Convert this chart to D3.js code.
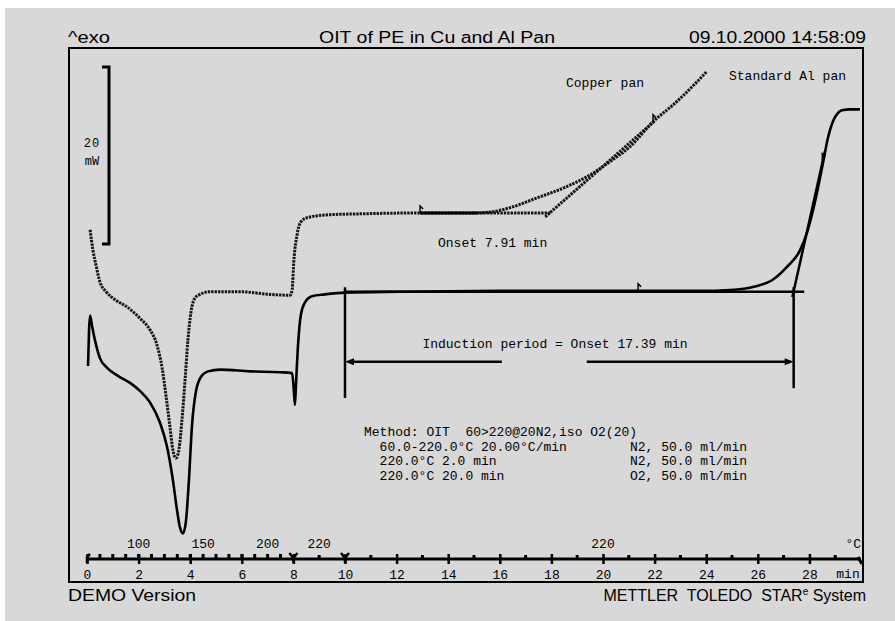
<!DOCTYPE html>
<html><head><meta charset="utf-8">
<script src="https://cdn.jsdelivr.net/npm/d3@7"></script>
<style>html,body{margin:0;padding:0;background:#fff;}svg{display:block;}</style>
</head><body>
<svg id="chart" width="895" height="621"></svg>
<script>
// Copper pan run: time (min) and heat flow (mW, exo up, arbitrary offset)
const cuTime = [0.12,0.23,0.35,0.50,0.74,1.09,1.59,2.05,2.44,2.71,2.91,3.06,3.22,3.33,3.45,3.57,3.68,3.80,3.91,4.03,4.19,4.38,4.77,5.93,7.09,7.87,7.95,8.02,8.14,8.29,8.57,9.42,10.58,12.91,14.84,15.62,16.40,17.44,18.53,19.50,20.27,21.05,21.94,22.79,23.57,24.03];
const cuFlow = [39.8,37.5,35.8,33.9,32.8,31.9,31.0,29.8,28.5,26.8,24.2,21.1,17.4,14.9,14.0,15.1,18.3,22.8,27.3,30.5,32.1,32.5,32.8,32.8,32.5,32.4,33.0,36.4,39.2,40.7,41.2,41.5,41.6,41.7,41.7,41.8,42.3,43.4,44.6,46.0,47.5,49.2,52.0,54.1,56.3,57.7];
// Standard Al pan run
const alTime = [0.04,0.08,0.12,0.19,0.31,0.50,0.78,1.20,1.67,2.05,2.44,2.83,3.10,3.33,3.49,3.60,3.72,3.84,3.95,4.07,4.22,4.42,4.69,5.16,6.32,7.48,7.95,8.02,8.06,8.10,8.18,8.29,8.45,8.72,9.22,10.0,12.13,16.0,19.88,23.76,24.92,25.89,26.55,27.13,27.64,27.91,28.14,28.33,28.53,28.72,28.92,29.11,29.26,29.57,29.96];
const alFlow = [24.4,28.5,30.1,29.0,27.3,25.3,24.2,23.3,22.5,21.6,20.3,18.0,15.3,11.5,8.1,6.2,5.5,7.0,11.5,17.7,21.5,23.2,23.8,24.0,23.8,23.7,23.6,21.5,20.0,22.3,26.8,30.2,31.6,32.3,32.5,32.7,32.8,32.9,32.9,32.9,33.0,33.4,34.1,35.6,37.5,39.5,42.0,44.5,47.4,50.2,52.1,53.0,53.3,53.4,53.4];

// Evaluation results
const cuOnset = 17.91, cuBaseline = 41.7, cuSlope = 2.54;   // min, mW, mW/min
const alOnset = 27.39, alBaseline = 32.8, alSlope = 13.1;
const oxygenSwitch = 10;                                  // min

// Axis ticks and temperature labels
const timeTicks = d3.range(0, 29, 2);
const minorTicks = d3.range(1, 30, 2);
const heatingTicks = d3.range(70, 220, 10).map(T => (T - 60) / 20);
const segmentMarks = [8, 10];
const tempLabelTimes = [2, 4.5, 7, 9, 20];
const tempLabelText = ["100", "150", "200", "220", "220"];

const methodLines = [
  ["Method: OIT  60>220@20N2,iso O2(20)", ""],
  ["  60.0-220.0\u00B0C 20.00\u00B0C/min", "N2, 50.0 ml/min"],
  ["  220.0\u00B0C 2.0 min", "N2, 50.0 ml/min"],
  ["  220.0\u00B0C 20.0 min", "O2, 50.0 ml/min"]
];

const svg = d3.select("#chart");
const mono = "'Liberation Mono','DejaVu Sans Mono',monospace";
const sans = "'Liberation Sans',Arial,sans-serif";

const frame = {l: 69, t: 48, r: 863, b: 582};
const x = d3.scaleLinear().domain([0, 30]).range([87, 861]);
const y = d3.scaleLinear().domain([0, 60.34]).range([frame.b, frame.t]);

// page background
svg.append("rect").attr("x", 5).attr("y", 8).attr("width", 890).attr("height", 613).attr("fill", "#d8d8d8");
svg.append("rect").attr("x", frame.l).attr("y", frame.t)
  .attr("width", frame.r - frame.l).attr("height", frame.b - frame.t)
  .attr("fill", "none").attr("stroke", "#000").attr("stroke-width", 2);

// header and footer
function headText(txt, xx, yy, anchor, len) {
  svg.append("text").attr("x", xx).attr("y", yy).attr("text-anchor", anchor)
    .attr("font-family", sans).attr("font-size", 16).attr("fill", "#000")
    .attr("textLength", len).attr("lengthAdjust", "spacingAndGlyphs")
    .style("white-space", "pre").text(txt);
}
headText("^exo", 68, 43, "start", 42);
headText("OIT of PE in Cu and Al Pan", 437, 43, "middle", 236);
headText("09.10.2000 14:58:09", 866, 43, "end", 177);
headText("DEMO Version", 68, 601, "start", 128);
const brand = svg.append("text").attr("x", 866).attr("y", 601).attr("text-anchor", "end")
  .attr("font-family", sans).attr("font-size", 16).style("white-space", "pre");
brand.append("tspan").text("METTLER  TOLEDO  STAR");
brand.append("tspan").attr("font-size", 10).attr("dy", -6).text("e");
brand.append("tspan").attr("dy", 6).text(" System");

// curves
const line = d3.line().x(d => x(d[0])).y(d => y(d[1])).curve(d3.curveMonotoneX);
const cuData = cuTime.map((t, i) => [t, cuFlow[i]]);
const alData = alTime.map((t, i) => [t, alFlow[i]]);

const plot = svg.append("g");
const dotted = {stroke: "#161616", width: 3, dash: "2.4,1"};

// evaluation helpers (drawn first so the curves sit on top)
const straight = d3.line().x(d => x(d[0])).y(d => y(d[1]));
function seg(pts, dash, w, col) {
  plot.append("path").attr("d", straight(pts)).attr("fill", "none")
    .attr("stroke", col || "#000").attr("stroke-width", w)
    .attr("stroke-dasharray", dash || null);
}
// Al baseline and inflection tangent
seg([[oxygenSwitch, alBaseline], [27.8, alBaseline]], null, 2.5);
seg([[alOnset - 0.05, alBaseline - 0.6], [28.6, alBaseline + alSlope * (28.6 - alOnset)]], null, 2.5);
// Cu baseline extension and tangent
seg([[15.1, cuBaseline], [cuOnset + 0.05, cuBaseline]], dotted.dash, 3, dotted.stroke);
seg([[cuOnset - 0.15, cuBaseline - 0.45], [22.0, cuBaseline + cuSlope * (22.0 - cuOnset)]], dotted.dash, 3, dotted.stroke);

plot.append("path").attr("d", line(cuData)).attr("fill", "none")
  .attr("stroke", dotted.stroke).attr("stroke-width", dotted.width)
  .attr("stroke-dasharray", dotted.dash);
plot.append("path").attr("d", line(alData)).attr("fill", "none")
  .attr("stroke", "#000").attr("stroke-width", 2.6).attr("stroke-linejoin", "round");

// solid evaluation range on the copper baseline
seg([[12.91, cuBaseline], [15.1, cuBaseline]], null, 3);

// small limit flags
function flag(t, v) {
  const px = x(t), py = y(v);
  plot.append("path").attr("d", `M${px},${py}V${py - 7}L${px + 3},${py - 4}`)
    .attr("fill", "none").attr("stroke", "#000").attr("stroke-width", 1.5);
}
flag(12.91, cuBaseline);
flag(21.94, 52.0);
flag(21.36, 32.9);
flag(28.5, 47.6);

// induction period markers
seg([[oxygenSwitch, 33.3], [oxygenSwitch, 20.8]], null, 2.5);
seg([[alOnset, 33.3], [alOnset, 21.9]], null, 2.5);
const arrowV = 24.9;
seg([[16.08, arrowV], [oxygenSwitch + 0.2, arrowV]], null, 2.5);
seg([[19.37, arrowV], [alOnset - 0.2, arrowV]], null, 2.5);
function head(t, dir) {
  const px = x(t), py = y(arrowV);
  plot.append("path").attr("d", `M${px},${py}L${px - dir * 9},${py - 3.5}L${px - dir * 9},${py + 3.5}Z`).attr("fill", "#000");
}
head(oxygenSwitch, -1);
head(alOnset, 1);

// annotations
function label(txt, xx, yy, anchor) {
  return svg.append("text").attr("x", xx).attr("y", yy).attr("text-anchor", anchor || "start")
    .attr("font-family", mono).attr("font-size", 13).attr("fill", "#000")
    .style("white-space", "pre").text(txt);
}
label("Copper pan", 566, 87);
label("Standard Al pan", 729, 80);
label("Onset 7.91 min", 438, 247);
label("Induction period = Onset 17.39 min", 555, 348, "middle");
methodLines.forEach((row, i) => {
  label(row[0], 364, 436 + i * 14.5);
  if (row[1]) label(row[1], 630, 436 + i * 14.5);
});

// 20 mW scale bar
const barTop = 58.2, barSpan = 20;
svg.append("path")
  .attr("d", `M102,${y(barTop)}H109V${y(barTop - barSpan)}H102`)
  .attr("fill", "none").attr("stroke", "#000").attr("stroke-width", 3);
label("20", 92, 147, "middle").attr("font-size", 12).attr("letter-spacing", 1);
label("mW", 92, 165, "middle").attr("font-size", 12);

// time axis with temperature marks
const axisY = 559;
const axis = svg.append("g").attr("transform", `translate(0,${axisY})`);
axis.call(d3.axisBottom(x).tickValues(timeTicks).tickSize(5).tickPadding(6).tickFormat(d3.format("d")));
axis.select(".domain").remove();
axis.selectAll(".tick line").attr("y1", -5).attr("stroke", "#000").attr("stroke-width", 2.5);
axis.selectAll(".tick text").attr("font-family", mono).attr("font-size", 13).attr("fill", "#000");
axis.append("line").attr("x1", x(0)).attr("x2", x(30)).attr("stroke", "#000").attr("stroke-width", 3);
axis.selectAll(".minor").data(minorTicks.filter(t => t > 8)).enter().append("rect")
  .attr("x", d => x(d) - 1.5).attr("y", -4).attr("width", 3).attr("height", 3).attr("fill", "#000");
axis.selectAll(".heat").data(heatingTicks).enter().append("rect")
  .attr("x", d => x(d) - 1.5).attr("y", -5).attr("width", 3).attr("height", 4).attr("fill", "#000");
axis.selectAll(".seg").data(segmentMarks).enter().append("path")
  .attr("d", d => `M${x(d) - 4},-6L${x(d)},-1L${x(d) + 4},-6M${x(d)},-1V4`)
  .attr("fill", "none").attr("stroke", "#000").attr("stroke-width", 2.5);
axis.append("path").attr("d", `M${x(0) + 3},-5L${x(0)},-2V4`).attr("fill", "none").attr("stroke", "#000").attr("stroke-width", 2.5);
axis.append("path").attr("d", `M${x(30) - 3},-2L${x(30) + 1},5`).attr("fill", "none").attr("stroke", "#000").attr("stroke-width", 3);
tempLabelTimes.forEach((t, i) => label(tempLabelText[i], x(t), 548, "middle"));
label("\u00B0C", 861, 548, "end");
label("min", 848, 578, "middle");
</script>
</body></html>
